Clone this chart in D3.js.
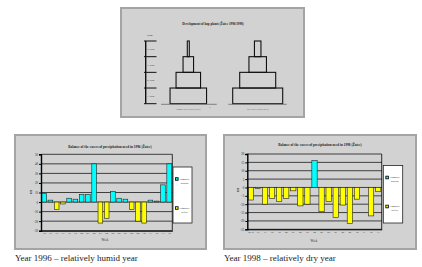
<!DOCTYPE html>
<html><head><meta charset="utf-8">
<script src="https://cdn.jsdelivr.net/npm/d3@7"></script>
<style>html,body{margin:0;padding:0;background:#fff;}svg{display:block;}</style>
</head><body>
<svg id="c" width="422" height="267"></svg>
<script>
// ---------- data ----------
const weeks1996 = ["14","15","16","17","18","19","20","21","22","23","24","25","26","27","28","29","30","31","32","33","34"];
const balance1996 = [9,2,-8,-2,4,3,8,8,40,-22,-17,11,4,3,-8,-20,-22,2,1,18,40];
const yTicks1996 = [-30,-20,-10,0,10,20,30,40,50];
const weeks1998 = ["14-15","16","17","18","19","20","21","22","23","24","25","26","27","28","29","30","31","32","33"];
const balance1998 = [-7.5,-0.5,-10,-6.5,-8.5,-6.5,-2,-11,-10,16,-14.5,-8.5,-18,-10.5,-21.5,-7,0,-17,-2.5];
const yTicks1998 = [-25,-20,-15,-10,-5,0,5,10,15,20];
const seriesNames = ["Humidity surplus","Humidity deficit"];
const stages = ["4. stage","3. stage","2. stage","1. stage"];
const plants1996 = [4,21,49,73];
const plants1998 = [13,35,72,100];
const captions = ["Year 1996 – relatively humid year","Year 1998 – relatively dry year"];
const titles = ["Balance of the excess of precipitation need in 1996 (Žatec)","Balance of the excess of precipitation need in 1998 (Žatec)"];
const pyramidTitle = "Development of hop plants (Žatec 1996/1998)";
const pyramidLabels = ["Humid year 1996 (Žatec)","Dry year 1998 (Žatec)"];

const svg = d3.select("#c");
const FONT = "'Liberation Serif', 'DejaVu Serif', serif";
const PANEL_FILL = "#d2d2d2", PANEL_STROKE = "#a4a4a4";
const CYAN = "#00ffff", YELLOW = "#ffff00";

function panel(x0,y0,x1,y1){
  svg.append("rect").attr("x",x0).attr("y",y0).attr("width",x1-x0).attr("height",y1-y0)
    .attr("fill",PANEL_FILL).attr("stroke",PANEL_STROKE).attr("stroke-width",2);
}

function barChart(o){
  panel(o.px0,o.py0,o.px1,o.py1);
  const g = svg.append("g");
  const x = d3.scaleBand().domain(o.weeks).range([o.x0,o.x1]).paddingInner(0.25).paddingOuter(0.125);
  const y = d3.scaleLinear().domain([o.ticks[0],o.ticks[o.ticks.length-1]]).range([o.y1,o.y0]);
  g.selectAll("line.grid").data(o.ticks).join("line")
    .attr("x1",o.x0).attr("x2",o.x1).attr("y1",d=>y(d)).attr("y2",d=>y(d))
    .attr("stroke","#000").attr("stroke-width",0.7);
  g.append("line").attr("x1",o.x1).attr("x2",o.x1).attr("y1",o.y0).attr("y2",o.y1).attr("stroke","#000").attr("stroke-width",0.8);
  g.selectAll("rect.bar").data(o.values).join("rect")
    .attr("x",(d,i)=>x(o.weeks[i])).attr("width",x.bandwidth())
    .attr("y",d=>y(Math.max(0,d))).attr("height",d=>Math.abs(y(d)-y(0)))
    .attr("fill",d=>d>=0?CYAN:YELLOW).attr("stroke","#222").attr("stroke-width",0.6);
  const ya = d3.axisLeft(y).tickValues(o.ticks).tickSize(2).tickFormat(d3.format("d"));
  const ag = g.append("g").attr("transform",`translate(${o.x0},0)`).call(ya);
  ag.select(".domain").attr("stroke","#000").attr("stroke-width",1.4);
  ag.selectAll(".tick line").attr("stroke","#000");
  ag.selectAll("text").attr("font-size",3).attr("font-family",FONT).attr("fill","#222").attr("x",-3);
  const xa = d3.axisBottom(x).tickSize(0);
  const xg = g.append("g").attr("transform",`translate(0,${o.y1})`).call(xa);
  xg.select(".domain").attr("stroke","#000").attr("stroke-width",1);
  xg.selectAll("text").attr("font-size",2.6).attr("font-family",FONT).attr("fill","#222").attr("dy","0.3em").attr("y",2.5);
  g.append("text").attr("x",o.tx).attr("y",o.ty).attr("text-anchor","middle").attr("font-size",3.4)
    .attr("font-weight","bold").attr("font-family",FONT).attr("fill","#222").text(o.title);
  g.append("text").attr("x",o.wx).attr("y",o.wy).attr("text-anchor","middle").attr("font-size",3)
    .attr("font-family",FONT).attr("fill","#222").text("Week");
  g.append("text").attr("transform",`translate(${o.mx},${o.my}) rotate(-90)`).attr("text-anchor","middle")
    .attr("font-size",3).attr("font-family",FONT).attr("fill","#222").text("mm");
  g.append("rect").attr("x",o.lx0).attr("y",o.ly0).attr("width",o.lx1-o.lx0).attr("height",o.ly1-o.ly0)
    .attr("fill","#fff").attr("stroke","#222").attr("stroke-width",0.8);
  const lg = g.selectAll("g.leg").data(seriesNames).join("g")
    .attr("transform",(d,i)=>`translate(${o.lx0+2.5},${o.ly0+12+i*29})`);
  lg.append("rect").attr("x",0).attr("y",-1.3).attr("width",2.6).attr("height",2.6)
    .attr("fill",(d,i)=>i===0?CYAN:YELLOW).attr("stroke","#111").attr("stroke-width",0.9);
  lg.append("text").attr("x",4).attr("y",0.8).attr("font-size",2.6).attr("font-family",FONT).attr("fill","#222")
    .text(d=>d.split(" ")[0]);
  lg.append("text").attr("x",9).attr("y",4.6).attr("font-size",2.6).attr("font-family",FONT).attr("fill","#222")
    .attr("text-anchor","middle").text(d=>d.split(" ")[1]);
  svg.append("text").attr("x",o.px0).attr("y",261).attr("font-size",9).attr("font-family",FONT)
    .attr("fill","#222").text(o.caption);
}

barChart({px0:15,py0:135,px1:206,py1:249,x0:41,x1:172.3,y0:154.3,y1:230.7,
  weeks:weeks1996,values:balance1996,ticks:yTicks1996,
  tx:110,ty:147.5,wx:105,wy:241,mx:31.5,my:192,
  lx0:173,ly0:167,lx1:192,ly1:223,title:titles[0],caption:captions[0]});
barChart({px0:224,py0:135,px1:416,py1:249,x0:247.3,x1:381.7,y0:154,y1:229.3,
  weeks:weeks1998,values:balance1998,ticks:yTicks1998,
  tx:320,ty:146,wx:314,wy:242,mx:238.5,my:190,
  lx0:383.3,ly0:165.5,lx1:402.7,ly1:223,title:titles[1],caption:captions[1]});

// ---------- top pyramid chart ----------
panel(121,8,304,117);
const tg = svg.append("g");
const yS = d3.scaleBand().domain(stages).range([41,103.7]).padding(0);
const wS = d3.scaleLinear().domain([0,100]).range([0,50]);
tg.append("text").attr("x",213).attr("y",25).attr("text-anchor","middle").attr("font-size",3.2)
  .attr("font-weight","bold").attr("font-family",FONT).attr("fill","#222").text(pyramidTitle);
tg.append("text").attr("x",150).attr("y",36).attr("text-anchor","middle").attr("font-size",2.8)
  .attr("font-family",FONT).attr("fill","#222").text("Stage");
tg.append("line").attr("x1",145.7).attr("x2",145.7).attr("y1",41).attr("y2",103.7).attr("stroke","#111").attr("stroke-width",1.4);
const edges = stages.map(s=>yS(s)).concat([yS(stages[stages.length-1])+yS.bandwidth()]);
tg.selectAll("line.tk").data(edges).join("line").attr("x1",144).attr("x2",156.5)
  .attr("y1",d=>d).attr("y2",d=>d).attr("stroke","#111").attr("stroke-width",1);
tg.selectAll("text.st").data(stages).join("text").attr("x",151).attr("y",d=>yS(d)+yS.bandwidth()/2+1)
  .attr("text-anchor","middle").attr("font-size",2.4).attr("font-family",FONT).attr("fill","#333").text(d=>d);
function pyramid(values,cx,bx0,bx1,label){
  tg.selectAll(null).data(values).join("rect")
    .attr("x",d=>cx-wS(d)/2).attr("width",d=>wS(d))
    .attr("y",(d,i)=>yS(stages[i])).attr("height",yS.bandwidth())
    .attr("fill","none").attr("stroke","#111").attr("stroke-width",1.1);
  tg.append("line").attr("x1",bx0).attr("x2",bx1).attr("y1",104.3).attr("y2",104.3).attr("stroke","#777").attr("stroke-width",0.9);
  tg.append("text").attr("x",cx).attr("y",110).attr("text-anchor","middle").attr("font-size",2.4)
    .attr("font-family",FONT).attr("fill","#555").text(label);
}
pyramid(plants1996,188.3,161,216.7,pyramidLabels[0]);
pyramid(plants1998,257.7,228.3,286.7,pyramidLabels[1]);
tg.append("text").attr("x",210).attr("y",107.5).attr("text-anchor","middle").attr("font-size",2.2)
  .attr("font-family",FONT).attr("fill","#555").text("%");
</script>
</body></html>
